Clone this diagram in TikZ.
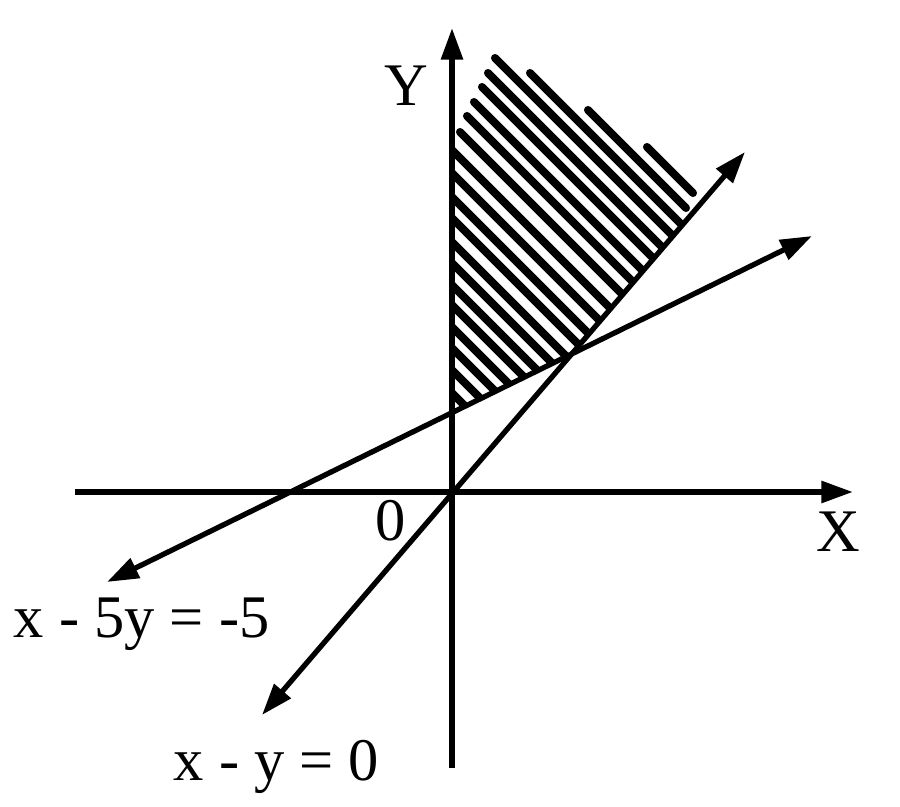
\documentclass[tikz,border=0pt]{standalone}
\usepackage{fontspec}
\setmainfont{Liberation Serif}
\usetikzlibrary{arrows.meta}
\tikzset{
  axis/.style={line width=1.6pt,-{Triangle[length=9pt,width=6pt]}},
  eqline/.style={line width=1.5pt,{Triangle[length=9pt,width=6pt]}-{Triangle[length=9pt,width=6pt]}},
  hatch/.style={line width=2.3pt,line cap=round},
  lbl/.style={inner sep=0pt,font=\fontsize{17.2}{20}\selectfont}
}
\begin{document}
\begin{tikzpicture}[x=0.01cm,y=-0.01cm]
  \useasboundingbox (0,0) rectangle (900,807);
  \coordinate (O) at (452,492);
  \coordinate (ytop) at (452,28);
  \coordinate (ybot) at (452,768);
  \coordinate (xleft) at (75,492);
  \coordinate (xright) at (853,492);
  \coordinate (a1) at (262,715);
  \coordinate (a2) at (745,152);
  \coordinate (b1) at (107,582);
  \coordinate (b2) at (812,236);
  \coordinate (P) at (intersection of a1--a2 and b1--b2);
  \coordinate (Q) at (intersection of ytop--ybot and b1--b2);

  % shaded region
  \begin{scope}
    \clip (452,0) -- (Q) -- (P) -- (a2) -- (745,0) -- cycle;
    \foreach \sx/\sy in {530/73,495/58,488/73,482/87,474/102,467/116,460/132,
        445/143,445/166,445/190,445/211,445/235,445/256,445/278,445/298,445/320,445/341,445/363,445/386}
      \draw[hatch] (\sx,\sy) -- ++(300,300);
    \foreach \sx/\sy/\dx in {647/147/46,588/110/98}
      \draw[hatch] (\sx,\sy) -- ++(\dx,\dx);
  \end{scope}

  \draw[axis] (xleft) -- (xright);
  \draw[axis] (ybot) -- (ytop);
  \draw[eqline] (a1) -- (a2);
  \draw[eqline] (b1) -- (b2);

  \node[lbl,anchor=base] (ylab) at (406,106) {Y};
  \node[lbl,anchor=base] (xlab) at (838,552) {X};
  \node[lbl,anchor=base] (olab) at (391,541) {0};
  \node[lbl,anchor=base west] (eqb) at (13,638) {x - 5y = -5};
  \node[lbl,anchor=base west] (eqa) at (173,780) {x - y = 0};
\end{tikzpicture}
\end{document}
